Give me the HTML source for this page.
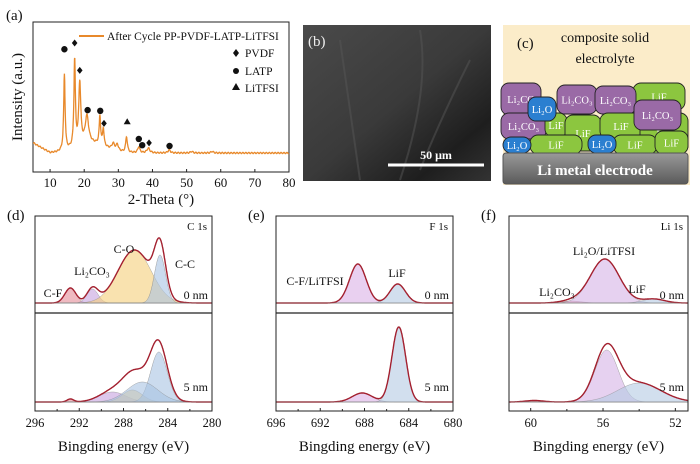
<!DOCTYPE html>
<html><head><meta charset="utf-8"><style>
html,body{margin:0;padding:0;background:#fff;width:700px;height:464px;overflow:hidden}
svg{display:block}
text{font-family:"Liberation Serif",serif;fill:#111}
</style></head><body>
<svg id="fig" width="700" height="464" viewBox="0 0 700 464">
<defs>
<linearGradient id="semg" x1="0" y1="0" x2="1" y2="1"><stop offset="0" stop-color="#4a4a4a"/><stop offset="0.5" stop-color="#3a3a3a"/><stop offset="0.8" stop-color="#1e1e1e"/><stop offset="1" stop-color="#333"/></linearGradient>
<linearGradient id="elg" x1="0" y1="0" x2="0" y2="1"><stop offset="0" stop-color="#9a9a9a"/><stop offset="0.5" stop-color="#7a7a7a"/><stop offset="1" stop-color="#5a5a5a"/></linearGradient>
</defs>
<g id="pa"></g>
<g id="pb">
<rect x="303" y="25" width="188" height="156" fill="url(#semg)"/>
<path d="M340 40 Q350 110 360 180 M420 30 Q430 90 400 180 M470 60 Q440 120 420 170" stroke="#555" stroke-width="2" fill="none" opacity="0.5"/>
<text x="308" y="46" font-size="15" style="fill:#eee">(b)</text>
<line x1="388" y1="165" x2="484" y2="165" stroke="#fff" stroke-width="3"/>
<text x="436" y="159" font-size="12" font-weight="bold" style="fill:#fff" text-anchor="middle">50 μm</text>
</g>
<g id="pc">
<rect x="503" y="25" width="187" height="160" fill="#fbecc9"/>
<text x="517" y="48" font-size="15">(c)</text>
<text x="605" y="42" font-size="14" text-anchor="middle">composite solid</text>
<text x="605" y="63" font-size="14" text-anchor="middle">electrolyte</text>
</g>
<g id="pd"></g>
<g id="pe"></g>
<g id="pf"></g>
</svg>
<script>
// XRD data
const xrdPeakPos=[14.2,17.2,18.7,20.8,24.6,25.6,28.5,29.7,32.4,36.0,38.8,44.9,51.5,57.5];
const xrdPeakH=[98,112,80,35,37,22,8,8,20,8,6,4,2,2];
const xrdPeakW=[0.25,0.25,0.35,0.6,0.25,0.25,0.5,0.4,0.3,0.35,0.5,0.4,0.4,0.4];
const xrdTicks=[10,20,30,40,50,60,70,80];
const markerTypes=['circle','diamond','diamond','circle','circle','diamond','triangle','circle','circle','diamond','circle'];
const markerPos=[14.2,17.2,18.7,21.0,24.7,25.8,32.6,36.0,37.0,39.0,45.0];
const markerH=[133,141,106,55,54,38,40,18,10,13,9];
// XPS data
const c1sCenters0=[292.8,290.8,287.0,284.7], c1sAmps0=[15,14,53,48], c1sSig0=[0.5,0.5,1.5,0.5];
const c1sCenters5=[292.8,289.0,287.2,284.8,286.3], c1sAmps5=[3,10,12,50,20], c1sSig5=[0.3,1.2,0.9,0.75,1.4];
const c1sColors=['#e58c98','#c7a2e0','#f5cf7a','#a9c3e3','#a9c3e3'];
const f1sCenters0=[688.6,685.0], f1sAmps0=[39,19], f1sSig0=[0.75,0.7];
const f1sCenters5=[688.2,684.9], f1sAmps5=[9,75], f1sSig5=[0.9,0.62];
const f1sColors=['#dab0e6','#b4c9e3'];
const li1Centers0=[57.8,55.9,53.2], li1Amps0=[2,44,4], li1Sig0=[0.6,0.8,0.6];
const li1Centers5=[59.8,55.8,54.0], li1Amps5=[1.5,52,19], li1Sig5=[0.5,0.65,1.2];
const li1Colors=['#e58c98','#d5b3e6','#b4c9e3'];

const NS='http://www.w3.org/2000/svg';
function mk(parent,tag,attrs,txt){const e=document.createElementNS(NS,tag);for(const k in attrs)e.setAttribute(k,attrs[k]);if(txt!==undefined)e.textContent=txt;parent.appendChild(e);return e;}

// Panel a
(function(){
const g=document.getElementById('pa');
const X0=33,X1=289,Y0=22,Y1=172;
const sx=v=>X0+(v-5)*(X1-X0)/75;
const sy=v=>153-v*0.78;
mk(g,'text',{x:6,y:20,'font-size':15},'(a)');
mk(g,'rect',{x:X0,y:Y0,width:X1-X0,height:Y1-Y0,fill:'none',stroke:'#222','stroke-width':1});
xrdTicks.forEach(t=>{const x=sx(t);mk(g,'line',{x1:x,x2:x,y1:Y1,y2:Y1-3,stroke:'#222'});
const tl=mk(g,'text',{x:x,y:187,'font-size':13,'text-anchor':'middle'},t);
});
const xt=mk(g,'text',{x:161,y:204,'font-size':15,'text-anchor':'middle'},'2-Theta (°)');

const yt=mk(g,'text',{x:0,y:0,'font-size':15,'text-anchor':'middle',transform:'translate(22,97) rotate(-90)'},'Intensity (a.u.)');

let d='';
for(let v=5;v<=80;v+=0.08){let y=0;
 y+= v<10? (10-v)*2.6 : 0;
 y+= 12*Math.exp(-Math.pow((v-22)/6,2));
 for(let i=0;i<xrdPeakPos.length;i++){const w=xrdPeakW[i];y+=xrdPeakH[i]*w*w/((v-xrdPeakPos[i])**2+w*w);}
 y+=0.8*Math.sin(v*7.3);
 d+=(d?'L':'M')+sx(v).toFixed(1)+' '+sy(y).toFixed(1);}
const ln=mk(g,'path',{d:d,fill:'none',stroke:'#e8892b','stroke-width':1.3});

markerPos.forEach((p,i)=>{const x=sx(p),y=sy(markerH[i]);let m;
 if(markerTypes[i]==='circle')m=mk(g,'circle',{cx:x,cy:y,r:3.2,fill:'#111'});
 else if(markerTypes[i]==='diamond')m=mk(g,'path',{d:`M${x} ${y-3.5}L${x+2.8} ${y}L${x} ${y+3.5}L${x-2.8} ${y}Z`,fill:'#111'});
 else m=mk(g,'path',{d:`M${x} ${y-3.5}L${x+3.5} ${y+2.5}L${x-3.5} ${y+2.5}Z`,fill:'#111'});
 });
const lg=mk(g,'g',{});
mk(lg,'line',{x1:79,x2:104,y1:36,y2:36,stroke:'#e8892b','stroke-width':2});
mk(lg,'text',{x:107,y:40,'font-size':11.5},'After Cycle PP-PVDF-LATP-LiTFSI');
mk(lg,'path',{d:'M236 49L239 53L236 57L233 53Z',fill:'#111'});
mk(lg,'text',{x:245,y:57,'font-size':11.5},'PVDF');
mk(lg,'circle',{cx:236,cy:71,r:3,fill:'#111'});
mk(lg,'text',{x:245,y:75,'font-size':11.5},'LATP');
mk(lg,'path',{d:'M236 83L240 90L232 90Z',fill:'#111'});
mk(lg,'text',{x:245,y:92,'font-size':11.5},'LiTFSI');
})();

// Panel c blobs
(function(){
const g=document.getElementById('pc');
const blobs=[
['g',633,83,52,27,'LiF'],['p',501,83,40,32,'Li₂CO'],['p',557,85,40,29,'Li₂CO₃'],['p',595,86,41,28,'Li₂CO₃'],
['p',501,113,45,26,'Li₂CO₃'],['g',545,113,22,24,'LiF'],['g',565,115,36,36,'LiF'],['g',600,113,42,26,'LiF'],['g',640,113,48,41,'LiF'],
['p',634,100,47,30,'Li₂CO₃'],['b',528,97,28,24,'Li₂O'],
['g',530,135,52,19,'LiF'],['g',613,135,44,19,'LiF'],['g',655,131,33,23,'LiF'],['b',503,137,28,16,'Li₂O'],['b',588,135,28,18,'Li₂O']];
const col={g:'#8cc63f',p:'#9a6aa6',b:'#2b7fd0'};
blobs.forEach(b=>{const r=mk(g,'rect',{x:b[1],y:b[2],width:b[3],height:b[4],rx:8,fill:col[b[0]],stroke:'#222','stroke-width':0.9});

mk(g,'text',{x:b[1]+b[3]/2,y:b[2]+b[4]/2+4,'font-size':10.5,'text-anchor':'middle',style:'fill:#fff'},b[5]);});
const e=mk(g,'rect',{x:503,y:153,width:185,height:31,rx:3,fill:'url(#elg)',stroke:'#555'});

mk(g,'text',{x:595,y:175,'font-size':15,'font-weight':'bold','text-anchor':'middle',style:'fill:#fff'},'Li metal electrode');
})();

// XPS panel builder
function xps(id,label,x0,x1,vL,vR,ticks,minor,title,sets,annots){
const g=document.getElementById(id);
const T=216,M=313,B=411;
const sx=v=>x0+(vL-v)*(x1-x0)/(vL-vR);
mk(g,'text',{x:x0-28,y:220,'font-size':15},label);
sets.forEach((s,si)=>{const base=si===0?303:402;const sy=h=>base-h;
 const comps=s.c.map((c,i)=>{const pts=[];for(let v=vL;v>=vR;v-=0.03*(vL-vR)/16){pts.push([v,s.a[i]*Math.exp(-((v-c)**2)/(2*s.s[i]**2))]);}return pts;});
 comps.forEach((pts,i)=>{let d=`M${sx(pts[0][0])} ${base}`;pts.forEach(p=>d+=`L${sx(p[0]).toFixed(1)} ${sy(p[1]).toFixed(1)}`);d+=`L${sx(pts[pts.length-1][0])} ${base}Z`;
  const f=mk(g,'path',{d:d,fill:s.col[i],'fill-opacity':0.6,stroke:'#888','stroke-width':0.4});
  });
 let d='';comps[0].forEach((p,k)=>{let y=0;comps.forEach(c=>y+=c[k][1]);d+=(d?'L':'M')+sx(p[0]).toFixed(1)+' '+sy(y).toFixed(1);});
 const l=mk(g,'path',{d:d,fill:'none',stroke:'#a3202f','stroke-width':1.4});
 
 mk(g,'line',{x1:x0,x2:x1,y1:base,y2:base,stroke:'#888','stroke-width':0.6});
 mk(g,'text',{x:x1-4,y:si===0?299:391,'font-size':12,'text-anchor':'end'},si===0?'0 nm':'5 nm');
});
mk(g,'rect',{x:x0,y:T,width:x1-x0,height:B-T,fill:'none',stroke:'#222'});
mk(g,'line',{x1:x0,x2:x1,y1:M,y2:M,stroke:'#222','stroke-width':1.3});
ticks.forEach(t=>{const x=sx(t);mk(g,'line',{x1:x,x2:x,y1:B,y2:B-3,stroke:'#222'});
 const tl=mk(g,'text',{x:x,y:427,'font-size':12.5,'text-anchor':'middle'},t);
 });
minor.forEach(t=>{const x=sx(t);mk(g,'line',{x1:x,x2:x,y1:B,y2:B-2,stroke:'#222'});});
const xt=mk(g,'text',{x:(x0+x1)/2,y:451,'font-size':15,'text-anchor':'middle'},'Bingding energy (eV)');

mk(g,'text',{x:x1-5,y:230,'font-size':11,'text-anchor':'end'},title);
annots.forEach(a=>{const t=mk(g,'text',{x:a[0],y:a[1],'font-size':12,'text-anchor':'middle'},a[2]);});
}
xps('pd','(d)',35,212,296,280,[296,292,288,284,280],[294,290,286,282],'C 1s',
 [{c:c1sCenters0,a:c1sAmps0,s:c1sSig0,col:c1sColors},{c:c1sCenters5,a:c1sAmps5,s:c1sSig5,col:c1sColors}],
 [[53,297,'C-F'],[92,275,'Li₂CO₃'],[124,253,'C-O'],[185,268,'C-C']]);
xps('pe','(e)',276,453,696,680,[696,692,688,684,680],[694,690,686,682],'F 1s',
 [{c:f1sCenters0,a:f1sAmps0,s:f1sSig0,col:f1sColors},{c:f1sCenters5,a:f1sAmps5,s:f1sSig5,col:f1sColors}],
 [[315,285,'C-F/LiTFSI'],[397,277,'LiF']]);
xps('pf','(f)',509,688,61.2,51.3,[60,56,52],[58,54],'Li 1s',
 [{c:li1Centers0,a:li1Amps0,s:li1Sig0,col:li1Colors},{c:li1Centers5,a:li1Amps5,s:li1Sig5,col:li1Colors}],
 [[604,255,'Li₂O/LiTFSI'],[557,296,'Li₂CO₃'],[637,293,'LiF']]);
</script>
</body></html>
